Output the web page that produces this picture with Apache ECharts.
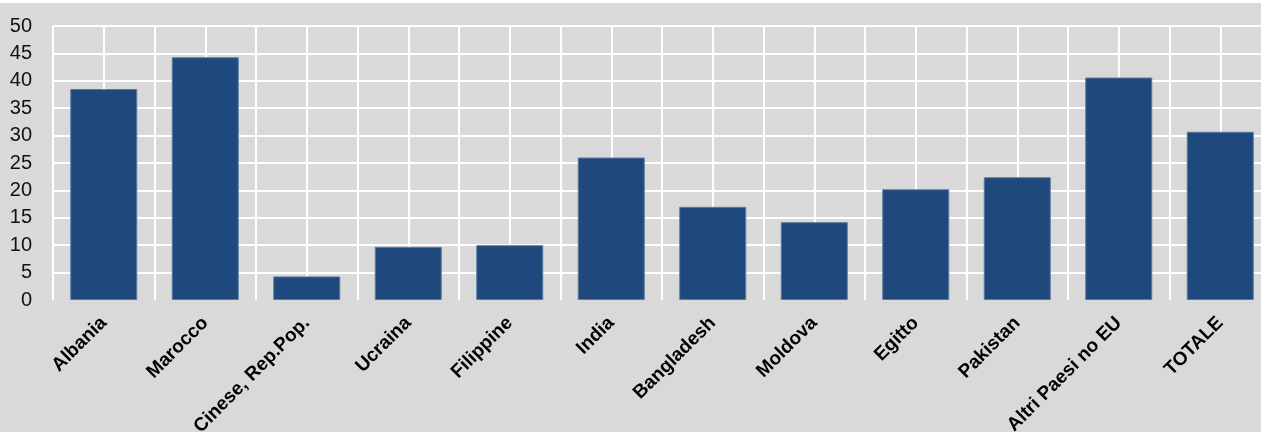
<!DOCTYPE html>
<html><head><meta charset="utf-8">
<script src="https://cdn.jsdelivr.net/npm/echarts@6/dist/echarts.min.js"></script>
<style>html,body{margin:0;padding:0;background:#ffffff;overflow:hidden;}#c{position:absolute;left:0;top:3px;width:1261px;height:429px;}</style>
</head><body><div id="c"></div>
<script>
const categories = ['Albania','Marocco','Cinese, Rep.Pop.','Ucraina','Filippine','India','Bangladesh','Moldova','Egitto','Pakistan','Altri Paesi no EU','TOTALE'];
const values = [38.5, 44.3, 4.3, 9.7, 10.0, 26.0, 17.0, 14.2, 20.2, 22.4, 40.6, 30.7];
const yTicks = [0,5,10,15,20,25,30,35,40,45,50];

const chart = echarts.init(document.getElementById('c'), null, {renderer:'canvas'});
chart.setOption({
  backgroundColor:'#d9d9d9',
  animation:false,
  grid:{left:53, top:23, width:1218, height:274, containLabel:false, outerBoundsMode:'none'},
  xAxis:[
    {type:'category', data:categories, boundaryGap:true,
     axisLine:{show:false}, axisTick:{show:false}, splitLine:{show:false},
     axisLabel:{rotate:45, interval:0, margin:20, color:'#000', fontWeight:'bold', fontSize:19, fontFamily:'Liberation Sans, Arial, sans-serif'}},
    {type:'value', min:0, max:categories.length*2, interval:1, position:'bottom',
     axisLine:{show:false}, axisTick:{show:false}, axisLabel:{show:false},
     splitLine:{show:true, lineStyle:{color:'#ffffff', width:2}}}
  ],
  yAxis:{type:'value', min:yTicks[0], max:yTicks[yTicks.length-1], interval:5,
    axisLine:{show:false}, axisTick:{show:false},
    axisLabel:{margin:21, color:'#111', fontSize:20, fontFamily:'Liberation Sans, Arial, sans-serif'},
    splitLine:{show:true, showMinLine:false, lineStyle:{color:'#ffffff', width:2}}},
  series:[{type:'bar', xAxisIndex:0, data:values, barWidth:67,
    itemStyle:{color:'#1f487c', borderColor:'#5a7aa2', borderWidth:1}, z:3}]
});
</script></body></html>
